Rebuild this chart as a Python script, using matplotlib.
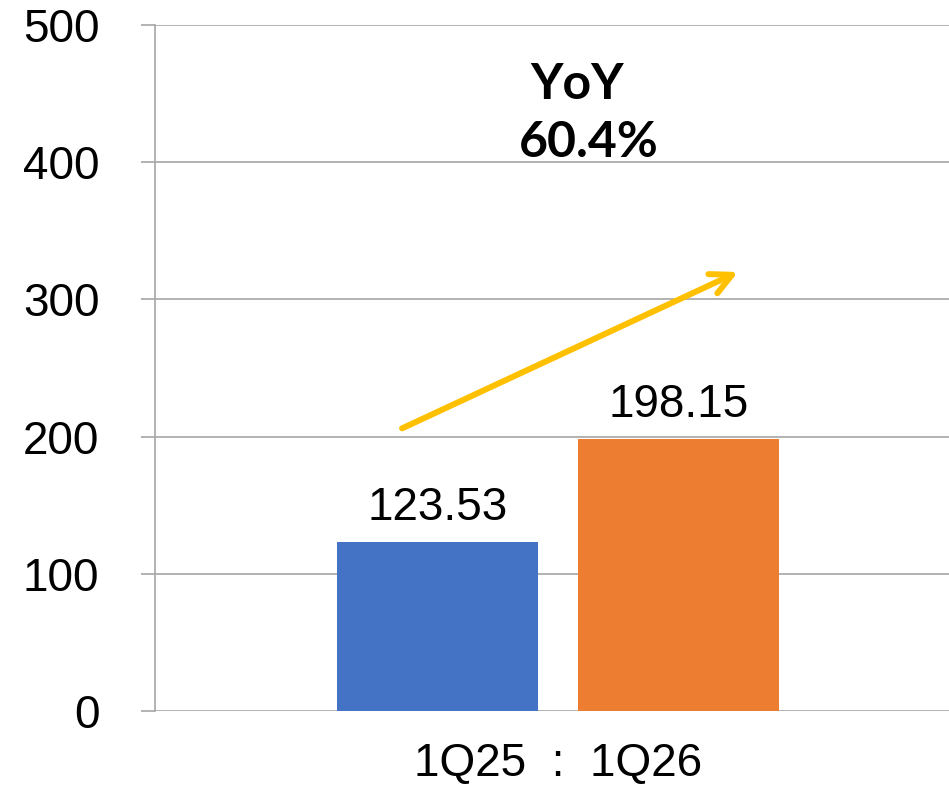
import matplotlib.pyplot as plt

quarters = ['1Q25', '1Q26']
values = [123.53, 198.15]
colors = ['#4472C4', '#ED7D31']
yoy_label = 'YoY'
yoy_value = '60.4%'
y_ticks = [0, 100, 200, 300, 400, 500]

plt.rcParams['font.family'] = ['Liberation Sans', 'DejaVu Sans']

fig = plt.figure(figsize=(9.49, 7.89), dpi=100)
ax = fig.add_axes([155 / 949, 1 - 711 / 789, 794 / 949, 686 / 789])

x = list(range(len(values)))
ax.bar(x, values, width=0.834, color=colors, zorder=3)
for i, v in enumerate(values):
    ax.text(i, v + 16, f'{v:.2f}', ha='center', va='baseline', fontsize=33)

# стрелка роста
ax.annotate('', xy=(1.247, 320), xytext=(-0.147, 206),
            arrowprops=dict(arrowstyle='->', color='#FFC000', lw=4.3,
                            mutation_scale=38, shrinkA=0, shrinkB=0),
            zorder=4)
ax.text(0.581, 446, yoy_label, ha='center', va='baseline', fontsize=36,
        fontweight='bold', family=['Lato', 'DejaVu Sans'])
ax.text(0.627, 404, yoy_value, ha='center', va='baseline', fontsize=36,
        fontweight='bold', family=['Lato', 'DejaVu Sans'])

ax.set_ylim(0, 500)
ax.set_xlim(-1.172, 2.122)
ax.set_yticks(y_ticks)
ax.set_yticklabels([str(t) for t in y_ticks], fontsize=33)
ax.set_xticks([0.5])
ax.set_xticklabels(['  :  '.join(quarters)], fontsize=33)
ax.tick_params(axis='y', length=10, width=1.2, color='#A6A6A6', pad=30)
ax.tick_params(axis='x', length=0, pad=22)
ax.grid(axis='y', color='#A6A6A6', lw=1.2, zorder=0)
for s in ['top', 'right', 'bottom']:
    ax.spines[s].set_visible(False)
ax.spines['left'].set_color('#A6A6A6')
ax.spines['left'].set_linewidth(1.2)

fig.savefig('out.png', dpi=100)
